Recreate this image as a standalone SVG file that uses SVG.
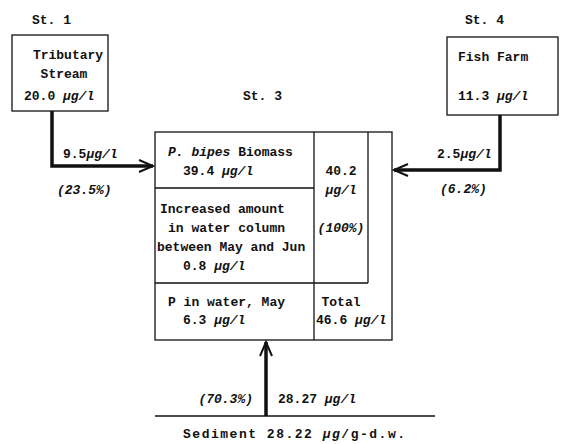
<svg xmlns="http://www.w3.org/2000/svg" width="563" height="444" viewBox="0 0 563 444">
<style>
text{font-family:"Liberation Mono","DejaVu Sans Mono",monospace;font-size:13px;fill:#111;font-weight:bold}
.i{font-style:italic}
.c{text-anchor:middle}
.box{fill:none;stroke:#111;stroke-width:1.3}
.flow{fill:none;stroke:#111;stroke-width:3.5}
.thin{fill:none;stroke:#111;stroke-width:1.3}
</style>
<defs>
<marker id="ah" markerWidth="10" markerHeight="10" refX="8" refY="5" orient="auto" markerUnits="userSpaceOnUse" viewBox="0 0 10 10" overflow="visible">
<path d="M-6,-1 L8,5 L-6,11" fill="none" stroke="#111" stroke-width="2"/>
</marker>
</defs>
<rect width="563" height="444" fill="#fff"/>
<g id="st1">
<text x="32" y="24">St. 1</text>
<rect class="box" x="12" y="35" width="96" height="76"/>
<text x="68" y="59" class="c">Tributary</text>
<text x="64" y="78" class="c">Stream</text>
<text x="24" y="100">20.0 <tspan class="i">µg/l</tspan></text>
</g>
<g id="st4">
<text x="465" y="24">St. 4</text>
<rect class="box" x="447" y="37" width="111" height="78"/>
<text x="458" y="61">Fish Farm</text>
<text x="458" y="100">11.3 <tspan class="i">µg/l</tspan></text>
</g>
<g id="st3">
<text x="243" y="100">St. 3</text>
<rect class="box" x="155" y="132" width="237" height="208"/>
<path class="thin" d="M155,188 H314 M155,283 H368 M368,132 V283 M314,132 V340"/>
<text x="168" y="156"><tspan class="i">P. bipes</tspan> Biomass</text>
<text x="183" y="175">39.4 <tspan class="i">µg/l</tspan></text>
<text x="160" y="213">Increased amount</text>
<text x="168" y="232">in water column</text>
<text x="157" y="251">between May and Jun</text>
<text x="183" y="270">0.8 <tspan class="i">µg/l</tspan></text>
<text x="341" y="175" class="c">40.2</text>
<text x="341" y="194" class="c i">µg/l</text>
<text x="341" y="232" class="c i">(100%)</text>
<text x="168" y="306">P in water, May</text>
<text x="183" y="324">6.3 <tspan class="i">µg/l</tspan></text>
<text x="341" y="306" class="c">Total</text>
<text x="316" y="324">46.6 <tspan class="i">µg/l</tspan></text>
</g>
<g id="sediment">
<path class="thin" d="M155,416 H435"/>
<text x="183" y="438" textLength="222" lengthAdjust="spacing">Sediment 28.22 <tspan class="i">µg</tspan>/g-d.w.</text>
</g>
<g id="connectors">
<path class="flow" d="M52,111 V166 H153" marker-end="url(#ah)"/>
<path class="flow" d="M500,115 V170 H394" marker-end="url(#ah)"/>
<path class="flow" d="M266,416 V342" marker-end="url(#ah)"/>
<text x="63" y="158">9.5<tspan class="i">µg/l</tspan></text>
<text x="57" y="194" class="i">(23.5%)</text>
<text x="437" y="158">2.5<tspan class="i">µg/l</tspan></text>
<text x="440" y="193" class="i">(6.2%)</text>
<text x="253" y="403" class="i" text-anchor="end">(70.3%)</text>
<text x="278" y="403">28.27 <tspan class="i">µg/l</tspan></text>
</g>
</svg>
